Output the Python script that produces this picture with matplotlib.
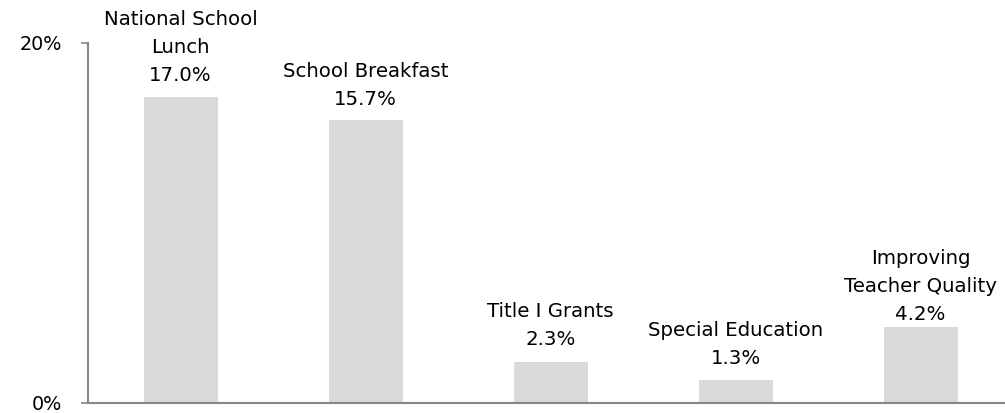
import matplotlib
matplotlib.use("Agg")
import matplotlib.pyplot as plt

categories = ["National School\nLunch", "School Breakfast", "Title I Grants",
              "Special Education", "Improving\nTeacher Quality"]
values = [17.0, 15.7, 2.3, 1.3, 4.2]
value_labels = ["17.0%", "15.7%", "2.3%", "1.3%", "4.2%"]
yticks = [0, 20]
ytick_labels = ["0%", "20%"]

# label layout: gap (px) from bar top to baseline of the value label
label_gap_px = [16, 15, 17, 16, 7]
line_step_px = 28

plt.rcParams['font.family'] = ['DejaVu Sans']

fig = plt.figure(figsize=(10.05, 4.13), dpi=100)
ax = fig.add_axes([88/1005, 10/413, 925/1005, 360/413])

x = list(range(len(categories)))
ax.bar(x, values, width=0.4, color="#d9d9d9", zorder=2)
ax.set_xlim(-0.5, len(categories) - 0.5)
ax.set_ylim(0, 20)

px2pt = 72 / fig.dpi
for xi, v, cat, lab, gap in zip(x, values, categories, value_labels, label_gap_px):
    lines = cat.split("\n") + [lab]
    for k, line in enumerate(reversed(lines)):
        ax.annotate(line, (xi, v), xytext=(0, (gap + k * line_step_px) * px2pt),
                    textcoords="offset points", ha="center", va="baseline",
                    fontsize=14.2, color="#000000", annotation_clip=False)

ax.set_yticks(yticks)
ax.set_yticklabels(ytick_labels, fontsize=13.8)
ax.set_xticks([])
for s in ["top", "right"]:
    ax.spines[s].set_visible(False)
for s in ["left", "bottom"]:
    ax.spines[s].set_color("#868686")
    ax.spines[s].set_linewidth(1.5)
ax.tick_params(axis="y", length=5, width=1.2, color="#868686", pad=14)

fig.savefig("out.png", dpi=100)
